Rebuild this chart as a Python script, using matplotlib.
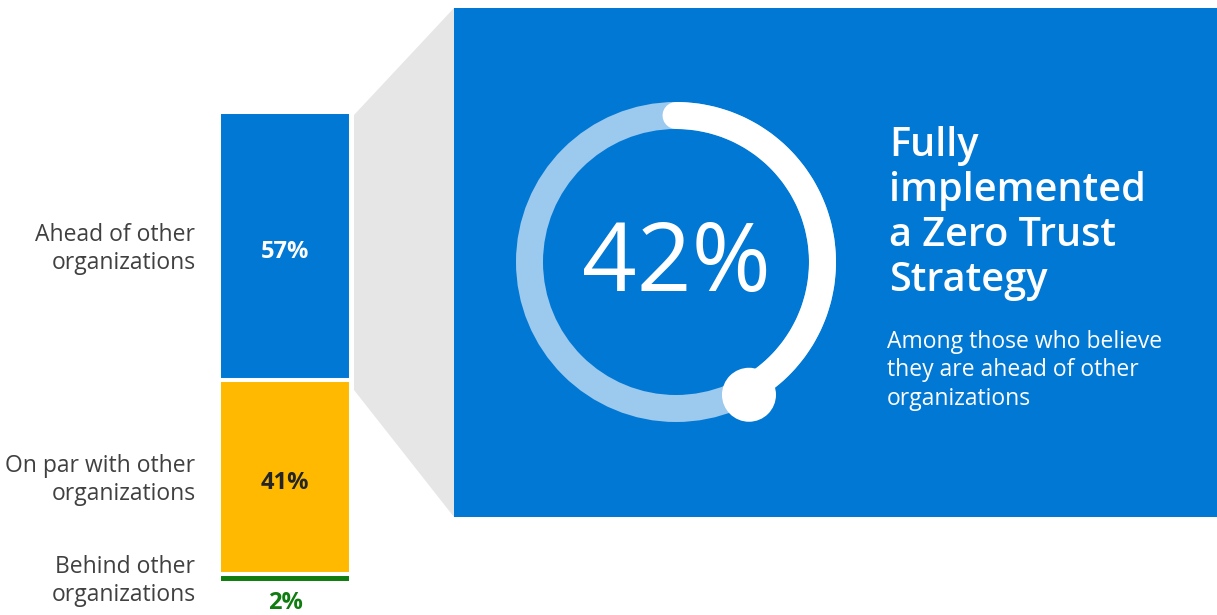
import numpy as np
import matplotlib
matplotlib.use("Agg")
import matplotlib.pyplot as plt
from matplotlib.patches import Polygon, Rectangle, Circle

plt.rcParams['font.family'] = ['Open Sans', 'DejaVu Sans']

categories = ["Ahead of other\norganizations",
              "On par with other\norganizations",
              "Behind other\norganizations"]
shares = [57, 41, 2]
bar_colors = ["#0078D4", "#FFB900", "#107C10"]
value_colors = ["white", "#252525", "#107C10"]

zero_trust_share = 42
headline = "Fully\nimplemented\na Zero Trust\nStrategy"
subline = "Among those who believe\nthey are ahead of other\norganizations"

W, H = 1217, 615
BLUE = "#0078D4"

fig = plt.figure(figsize=(W / 100, H / 100), dpi=100)

# background layer in pixel units (y down)
bg = fig.add_axes([0, 0, 1, 1])
bg.set_xlim(0, W)
bg.set_ylim(H, 0)
bg.axis('off')

# grey funnel from the "ahead" segment into the callout panel
bg.add_patch(Polygon([(354, 115), (454, 8), (454, 517), (354, 390)],
                     closed=True, fc="#E6E6E6", ec="none"))
bg.add_patch(Rectangle((454, 8), W - 454, 509, fc=BLUE, ec="none"))

# donut showing the share
cx, cy, r = 676, 262, 146.5
ring_w = 27 * 72 / 100
bg.add_patch(Circle((cx, cy), r, fill=False, ec="#9CC9EE", lw=ring_w))
t = np.linspace(0, 2 * np.pi * zero_trust_share / 100, 300)
bg.plot(cx + r * np.sin(t), cy - r * np.cos(t), color="white", lw=ring_w,
        solid_capstyle='round')
bg.add_patch(Circle((cx + (r + 5) * np.sin(t[-1]), cy - (r + 5) * np.cos(t[-1])),
                    27, fc="white", ec="none"))
bg.text(cx, cy + 4, f"{zero_trust_share}%", color="white", fontsize=69,
        ha='center', va='center')

bg.text(889, 126, headline, color="white", fontsize=28.5, fontweight='semibold',
        ha='left', va='top', linespacing=1.17)
bg.text(887, 330, subline, color="white", fontsize=16.5,
        ha='left', va='top', linespacing=1.24)

# stacked bar
ax = fig.add_axes([219 / W, (H - 583) / H, 132 / W, 471 / H])
ax.set_xlim(-0.5, 0.5)
ax.set_ylim(100, 0)
ax.axis('off')

bottoms = np.concatenate([[0], np.cumsum(shares)[:-1]])
ax.bar(0, shares, bottom=bottoms, width=1, color=bar_colors,
       edgecolor="white", linewidth=2.9)

for i, (cat, v, b) in enumerate(zip(categories, shares, bottoms)):
    mid = b + v / 2
    ax.annotate(cat, xy=(-0.5, mid), xytext=(-17, -2), textcoords='offset points',
                ha='right', va='center', fontsize=16.5, color="#404040",
                linespacing=1.2, annotation_clip=False)
    if i < 2:
        ax.annotate(f"{v}%", xy=(0, mid), xytext=(0, -4.5),
                    textcoords='offset points', color=value_colors[i],
                    fontsize=17, fontweight='bold', ha='center', va='center')
    else:
        ax.annotate(f"{v}%", xy=(0, 100), xytext=(0, -14.5),
                    textcoords='offset points', color=value_colors[i],
                    fontsize=17, fontweight='bold', ha='center', va='center',
                    annotation_clip=False)

fig.savefig("out.png", dpi=100)
